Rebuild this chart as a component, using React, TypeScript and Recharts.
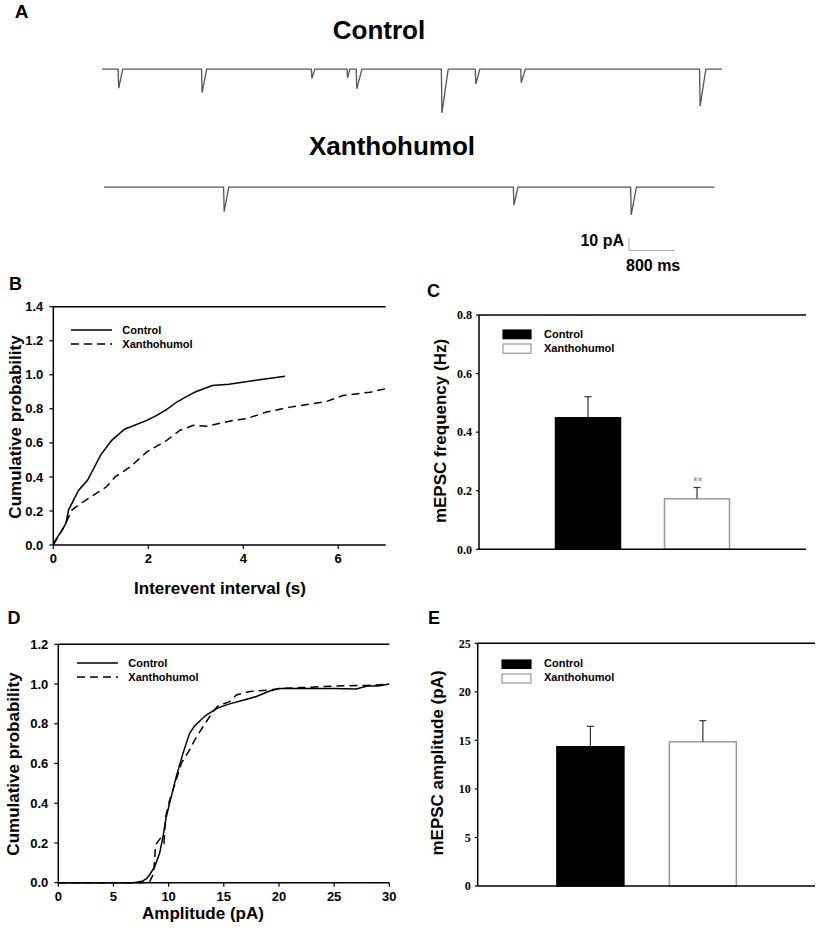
import React from "react";
import { Bar, BarChart, Cell, Line, LineChart, ReferenceLine, XAxis, YAxis } from "recharts";

const SANS = '"Liberation Sans", Arial, sans-serif';
const SERIF = '"Liberation Serif", "Times New Roman", serif';

// A: example traces, time (s) vs current (pA), baseline = 0
const controlTrace = [
  [0, 0], [0.28, 0], [0.29, -15.5], [0.36, 0],
  [1.73, 0], [1.74, -19], [1.82, 0],
  [3.64, 0], [3.65, -7.5], [3.7, 0],
  [4.26, 0], [4.27, -7], [4.31, 0],
  [4.42, 0], [4.43, -16], [4.52, 0],
  [5.9, 0], [5.91, -35.5], [6.02, 0],
  [6.49, 0], [6.5, -12], [6.57, 0],
  [7.28, 0], [7.29, -11], [7.36, 0],
  [10.39, 0], [10.4, -30], [10.5, 0],
  [10.78, 0],
].map(([t, i]) => ({ t, i }));

const xanthoTrace = [
  [0, 0], [2.08, 0], [2.09, -20], [2.17, 0],
  [7.12, 0], [7.13, -14.5], [7.2, 0],
  [9.16, 0], [9.17, -22.5], [9.26, 0],
  [10.62, 0],
].map(([t, i]) => ({ t, i }));

// scale bar: 10 pA / 800 ms
const scaleV = [{ x: 9.13, y: -41.5 }, { x: 9.13, y: -51.5 }];
const scaleH = [{ x: 9.13, y: -51.5 }, { x: 9.93, y: -51.5 }];

// B: interevent interval (s) cumulative
const ieiControl = [
  [0, 0.01], [0.14, 0.068], [0.25, 0.12], [0.27, 0.13], [0.32, 0.205], [0.53, 0.32],
  [0.72, 0.38], [1.0, 0.53], [1.23, 0.615], [1.5, 0.68], [1.97, 0.732], [2.18, 0.762],
  [2.39, 0.797], [2.6, 0.84], [2.88, 0.883], [3.0, 0.9], [3.35, 0.937], [3.7, 0.945],
  [4.88, 0.992],
].map(([x, y]) => ({ x, y }));

const ieiXantho = [
  [0, 0], [0.21, 0.098], [0.39, 0.205], [0.63, 0.254], [1.12, 0.342], [1.3, 0.4],
  [1.62, 0.459], [1.97, 0.547], [2.39, 0.615], [2.67, 0.674], [2.95, 0.703],
  [3.23, 0.697], [3.79, 0.732], [4.07, 0.742], [4.49, 0.781], [4.99, 0.81],
  [5.76, 0.844], [6.11, 0.879], [6.67, 0.898], [7.0, 0.918],
].map(([x, y]) => ({ x, y }));

// D: amplitude (pA) cumulative
const ampCdfControl = [
  [0, 0], [6.8, 0], [7.6, 0.007], [8.0, 0.02], [8.28, 0.04], [8.73, 0.08], [9.18, 0.148],
  [9.49, 0.232], [9.79, 0.332], [10.24, 0.433], [10.69, 0.534], [11.3, 0.651],
  [11.9, 0.752], [12.36, 0.79], [13.41, 0.844], [14.47, 0.88], [15.53, 0.9],
  [16.74, 0.918], [17.95, 0.937], [19.15, 0.965], [20.06, 0.977], [22, 0.978],
  [25, 0.978], [27, 0.975], [28, 0.99], [29, 0.99], [30, 1.0],
].map(([x, y]) => ({ x, y }));

const ampCdfXantho = [
  [0, 0], [7.4, 0], [8.28, 0.005], [8.64, 0.047], [8.82, 0.19], [9.24, 0.223],
  [9.58, 0.2], [9.73, 0.332], [10.09, 0.416], [10.69, 0.517], [11.15, 0.601],
  [11.9, 0.668], [12.36, 0.718], [13.11, 0.785], [14.02, 0.861], [14.47, 0.89],
  [15.53, 0.911], [16.14, 0.945], [17.34, 0.962], [19.15, 0.97], [20.06, 0.978],
  [22, 0.982], [25, 0.99], [28, 0.993], [30, 1.0],
].map(([x, y]) => ({ x, y }));

// C / E: bar summaries (mean, upper SEM)
const groups = ["Control", "Xanthohumol"];
const freqMeans = [0.449, 0.173];
const freqErr = [0.072, 0.038];
const ampMeans = [14.35, 14.87];
const ampErr = [2.1, 2.16];

const barStyle = [
  { fill: "#000", stroke: "#000" },
  { fill: "#fff", stroke: "#999" },
];

function Txt({ x, y, size, children, align = "center", rotate = false, font = SANS, color = "#000", weight = 700 }: any) {
  const tx = align === "center" ? "-50%" : align === "right" ? "-100%" : "0";
  return (
    <div
      style={{
        position: "absolute",
        left: x,
        top: y,
        transform: `translate(${tx},-50%)${rotate ? " rotate(-90deg)" : ""}`,
        fontFamily: font,
        fontSize: size,
        fontWeight: weight,
        color,
        whiteSpace: "nowrap",
        lineHeight: 1,
      }}
    >
      {children}
    </div>
  );
}

function LineKey({ x1, x2, y, dashed }: any) {
  return (
    <svg style={{ position: "absolute", left: x1, top: y - 2 }} width={x2 - x1} height={4}>
      <line x1={0} x2={x2 - x1} y1={2} y2={2} stroke="#000" strokeWidth={1.5} strokeDasharray={dashed ? "8 5" : undefined} />
    </svg>
  );
}

function BoxKey({ x, y, w, h, fill, stroke }: any) {
  return (
    <svg style={{ position: "absolute", left: x, top: y }} width={w + 2} height={h + 2}>
      <rect x={1} y={1} width={w} height={h} fill={fill} stroke={stroke} strokeWidth={1.2} />
    </svg>
  );
}

// upper half error bar: stacked segment drawn as a whisker with a top cap
function Whisker(props: any) {
  const { x, y, width, height } = props;
  if (height == null || isNaN(height)) return null;
  const cx = x + width / 2;
  return (
    <g>
      <line x1={cx} x2={cx} y1={y} y2={y + height} stroke="#333" strokeWidth={1.2} />
      <line x1={cx - 3.5} x2={cx + 3.5} y1={y} y2={y} stroke="#333" strokeWidth={1.2} />
    </g>
  );
}

function Trace({ data, left, top, width, tMax, yMin, pxPerPA, children }: any) {
  const height = (5 - yMin) * pxPerPA;
  return (
    <div style={{ position: "absolute", left, top }}>
      <LineChart width={width} height={height} data={data} margin={{ top: 0, right: 0, bottom: 0, left: 0 }}>
        <XAxis type="number" dataKey="t" domain={[0, tMax]} hide />
        <YAxis type="number" domain={[yMin, 5]} hide />
        <Line type="linear" dataKey="i" stroke="#555" strokeWidth={1.3} dot={false} isAnimationActive={false} />
        {children}
      </LineChart>
    </div>
  );
}

const axisLine = { stroke: "#000", strokeWidth: 1.5 };
const tickLine = { stroke: "#000", strokeWidth: 1.2 };
const sansTick = { fill: "#000", fontSize: 13, fontWeight: 700, fontFamily: SANS };
const serifTick = { fill: "#000", fontSize: 12, fontWeight: 700, fontFamily: SERIF };

function CdfPanel({ left, top, width, height, margin, yWidth, xHeight, xDomain, xTicks, yMax, yTicks, control, xantho }: any) {
  return (
    <div style={{ position: "absolute", left, top }}>
      <LineChart width={width} height={height} margin={margin}>
        <XAxis
          type="number"
          dataKey="x"
          domain={xDomain}
          ticks={xTicks}
          height={xHeight}
          axisLine={axisLine}
          tickLine={tickLine}
          tickSize={4}
          tickMargin={5}
          tick={sansTick}
          allowDataOverflow
        />
        <YAxis
          type="number"
          domain={[0, yMax]}
          ticks={yTicks}
          width={yWidth}
          axisLine={axisLine}
          tickLine={tickLine}
          tickSize={4}
          tickMargin={6}
          tick={sansTick}
          tickFormatter={(v: number) => v.toFixed(1)}
        />
        <YAxis yAxisId="frame" orientation="right" width={0} domain={[0, 1]} tick={false} tickLine={false} axisLine={axisLine} />
        <ReferenceLine y={yMax} stroke="#000" strokeWidth={1.5} />
        <Line data={control} type="linear" dataKey="y" stroke="#000" strokeWidth={1.5} dot={false} isAnimationActive={false} />
        <Line data={xantho} type="linear" dataKey="y" stroke="#000" strokeWidth={1.5} strokeDasharray="8 5" dot={false} isAnimationActive={false} />
      </LineChart>
    </div>
  );
}

function BarPanel({ left, top, width, height, margin, yWidth, pad, barSize, yMax, yTicks, means, errs, digits }: any) {
  const data = groups.map((name, k) => ({ name, value: means[k], err: errs[k] }));
  return (
    <div style={{ position: "absolute", left, top }}>
      <BarChart width={width} height={height} data={data} margin={margin}>
        <XAxis dataKey="name" hide padding={{ left: pad, right: pad }} />
        <YAxis
          type="number"
          domain={[0, yMax]}
          ticks={yTicks}
          width={yWidth}
          axisLine={axisLine}
          tickLine={tickLine}
          tickSize={3}
          tickMargin={4}
          tick={serifTick}
          tickFormatter={(v: number) => v.toFixed(digits)}
        />
        <YAxis yAxisId="frame" orientation="right" width={0} domain={[0, 1]} tick={false} tickLine={false} axisLine={axisLine} />
        <ReferenceLine y={yMax} stroke="#000" strokeWidth={1.5} />
        <Bar dataKey="value" stackId="s" barSize={barSize} isAnimationActive={false}>
          {data.map((d, k) => (
            <Cell key={d.name} fill={barStyle[k].fill} stroke={barStyle[k].stroke} strokeWidth={1.5} />
          ))}
        </Bar>
        <Bar dataKey="err" stackId="s" barSize={barSize} shape={Whisker} isAnimationActive={false} />
        <ReferenceLine y={0} stroke="#000" strokeWidth={1.5} />
      </BarChart>
    </div>
  );
}

export default function App() {
  const pxPerPA = 1.23;
  return (
    <div style={{ position: "absolute", left: 0, top: 0, width: 817, height: 936, background: "#fff", overflow: "hidden" }}>
      {/* A */}
      <Txt x={21.5} y={11} size={19}>A</Txt>
      <Txt x={379} y={30} size={26}>Control</Txt>
      <Trace data={controlTrace} left={101.7} top={69 - 5 * pxPerPA} width={620} tMax={10.78} yMin={-40} pxPerPA={pxPerPA} />
      <Txt x={392} y={146} size={26}>Xanthohumol</Txt>
      <Trace data={xanthoTrace} left={104} top={187 - 5 * pxPerPA} width={610.6} tMax={10.62} yMin={-55} pxPerPA={pxPerPA}>
        <ReferenceLine segment={scaleV} stroke="#aaa" strokeWidth={1} />
        <ReferenceLine segment={scaleH} stroke="#aaa" strokeWidth={1} />
      </Trace>
      <Txt x={624} y={241} size={16} align="right">10 pA</Txt>
      <Txt x={626} y={266} size={16} align="left">800 ms</Txt>

      {/* B */}
      <Txt x={15.5} y={284} size={18}>B</Txt>
      <CdfPanel
        left={0}
        top={290}
        width={400}
        height={320}
        margin={{ top: 16.7, right: 14.3, bottom: 15, left: 0 }}
        yWidth={53.3}
        xHeight={50}
        xDomain={[0, 7]}
        xTicks={[0, 2, 4, 6]}
        yMax={1.4}
        yTicks={[0, 0.2, 0.4, 0.6, 0.8, 1.0, 1.2, 1.4]}
        control={ieiControl}
        xantho={ieiXantho}
      />
      <LineKey x1={70.7} x2={111.7} y={330} />
      <LineKey x1={70.7} x2={111.7} y={344.3} dashed />
      <Txt x={122.3} y={330} size={11} align="left">Control</Txt>
      <Txt x={122.3} y={344.3} size={11} align="left">Xanthohumol</Txt>
      <Txt x={15} y={426.7} size={17} rotate>Cumulative probability</Txt>
      <Txt x={220} y={588} size={17}>Interevent interval (s)</Txt>

      {/* C */}
      <Txt x={433.5} y={291} size={18}>C</Txt>
      <BarPanel
        left={400}
        top={290}
        width={417}
        height={270}
        margin={{ top: 25, right: 11, bottom: 10.7, left: 0 }}
        yWidth={79}
        pad={54.5}
        barSize={65}
        yMax={0.8}
        yTicks={[0, 0.2, 0.4, 0.6, 0.8]}
        means={freqMeans}
        errs={freqErr}
        digits={1}
      />
      <BoxKey x={502.3} y={329} w={28} h={8.7} fill="#000" stroke="#000" />
      <BoxKey x={502.3} y={342.7} w={28} h={9.3} fill="#fff" stroke="#999" />
      <Txt x={544} y={334} size={11} align="left">Control</Txt>
      <Txt x={544} y={347.5} size={11} align="left">Xanthohumol</Txt>
      <Txt x={697.7} y={482} size={12} color="#888" weight={400}>**</Txt>
      <Txt x={440} y={431} size={17} rotate>mEPSC frequency (Hz)</Txt>

      {/* D */}
      <Txt x={14} y={617.5} size={18}>D</Txt>
      <CdfPanel
        left={0}
        top={620}
        width={400}
        height={316}
        margin={{ top: 24.3, right: 10.7, bottom: 13.3, left: 0 }}
        yWidth={58.3}
        xHeight={40}
        xDomain={[0, 30]}
        xTicks={[0, 5, 10, 15, 20, 25, 30]}
        yMax={1.2}
        yTicks={[0, 0.2, 0.4, 0.6, 0.8, 1.0, 1.2]}
        control={ampCdfControl}
        xantho={ampCdfXantho}
      />
      <LineKey x1={77.3} x2={118.3} y={663.3} />
      <LineKey x1={77.3} x2={118.3} y={676.7} dashed />
      <Txt x={128.3} y={663.3} size={11} align="left">Control</Txt>
      <Txt x={128.3} y={676.7} size={11} align="left">Xanthohumol</Txt>
      <Txt x={13.3} y={763.5} size={17} rotate>Cumulative probability</Txt>
      <Txt x={203} y={912.7} size={17}>Amplitude (pA)</Txt>

      {/* E */}
      <Txt x={434} y={617.5} size={18}>E</Txt>
      <BarPanel
        left={400}
        top={620}
        width={417}
        height={290}
        margin={{ top: 23.3, right: 2, bottom: 24, left: 0 }}
        yWidth={77.7}
        pad={56.2}
        barSize={67}
        yMax={25}
        yTicks={[0, 5, 10, 15, 20, 25]}
        means={ampMeans}
        errs={ampErr}
        digits={0}
      />
      <BoxKey x={501} y={658.7} w={29} h={8.6} fill="#000" stroke="#000" />
      <BoxKey x={501} y={672.7} w={29} h={9} fill="#fff" stroke="#999" />
      <Txt x={544} y={663.3} size={11} align="left">Control</Txt>
      <Txt x={544} y={677} size={11} align="left">Xanthohumol</Txt>
      <Txt x={436.7} y={763.3} size={17} rotate>mEPSC amplitude (pA)</Txt>
    </div>
  );
}
